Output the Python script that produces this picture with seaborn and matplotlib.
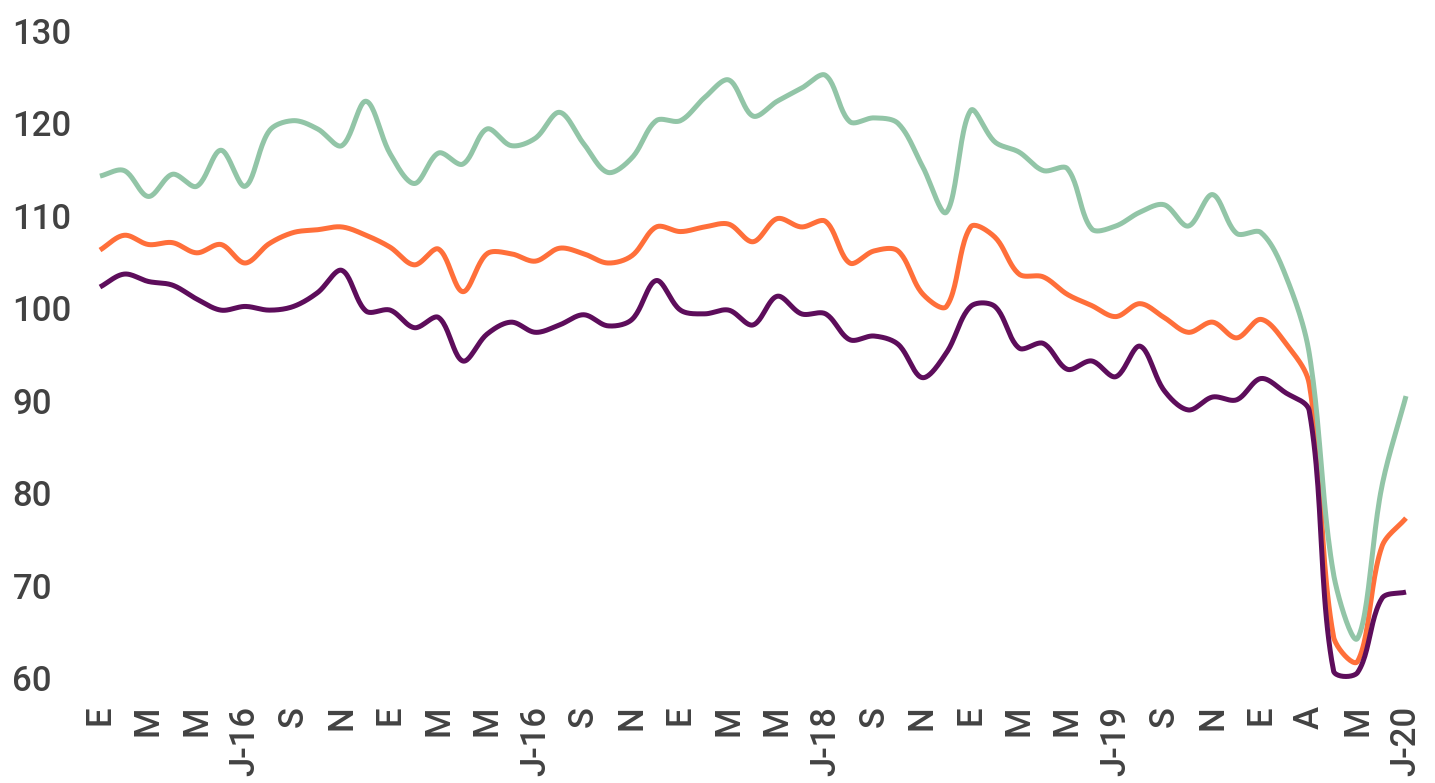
import numpy as np
import pandas as pd
import seaborn as sns
import matplotlib.pyplot as plt

# month labels, shown every second month
tick_labels = ["E", "M", "M", "J-16", "S", "N",
               "E", "M", "M", "J-16", "S", "N",
               "E", "M", "M", "J-18", "S", "N",
               "E", "M", "M", "J-19", "S", "N",
               "E", "A", "M", "J-20"]

# monthly index values
serie_verde = [114.3, 114.9, 112.1, 114.5, 113.2, 117.1, 113.2, 119.2, 120.3, 119.4,
               117.6, 122.4, 116.7, 113.5, 116.8, 115.6, 119.4, 117.6, 118.4, 121.2,
               117.8, 114.7, 116.3, 120.3, 120.3, 122.8, 124.7, 120.8, 122.4, 123.8,
               125.2, 120.2, 120.6, 120.0, 115.4, 110.4, 121.4, 118.0, 116.9, 114.9,
               115.1, 108.6, 108.9, 110.4, 111.2, 108.9, 112.3, 108.1, 108.2, 103.7,
               95.1, 71.3, 64.3, 80.7, 90.5]
serie_naranja = [106.3, 107.9, 106.9, 107.1, 106.0, 106.9, 104.9, 107.0, 108.2, 108.5,
                 108.8, 107.9, 106.6, 104.7, 106.4, 101.8, 105.9, 105.9, 105.1, 106.5,
                 105.9, 104.9, 105.7, 108.8, 108.3, 108.8, 109.1, 107.2, 109.7, 108.8,
                 109.4, 104.9, 106.2, 106.2, 101.6, 100.2, 108.8, 107.7, 103.7, 103.4,
                 101.5, 100.3, 99.1, 100.5, 99.0, 97.4, 98.5, 96.8, 98.8, 96.3,
                 91.8, 64.5, 61.8, 74.2, 77.3]
serie_morada = [102.3, 103.7, 102.9, 102.5, 101.0, 99.8, 100.2, 99.8, 100.2, 101.7,
                104.1, 99.7, 99.8, 97.9, 99.0, 94.3, 97.2, 98.5, 97.4, 98.2,
                99.3, 98.1, 98.8, 103.0, 99.8, 99.4, 99.8, 98.2, 101.3, 99.4,
                99.4, 96.6, 97.0, 96.1, 92.5, 95.2, 100.2, 100.2, 95.7, 96.2,
                93.4, 94.3, 92.6, 95.9, 91.1, 89.0, 90.4, 90.1, 92.4, 90.9,
                88.9, 60.8, 60.6, 68.6, 69.3]

colors = {"naranja": "#FF6F3A", "verde": "#92C5A7", "morada": "#5D0D5B"}


def smooth(values, steps=24, sx=24.2, sy=9.26):
    # excel-like smoothed line: bezier segments, handles scaled by segment length
    y = np.asarray(values, dtype=float)
    pts = np.column_stack([np.arange(len(y)) * sx, y * sy])
    n = len(pts)
    t = np.linspace(0, 1, steps, endpoint=False)[:, None]
    out = []
    for i in range(n - 1):
        p0 = pts[max(i - 1, 0)]
        p1, p2 = pts[i], pts[i + 1]
        p3 = pts[min(i + 2, n - 1)]
        l01 = np.linalg.norm(p1 - p0)
        l12 = np.linalg.norm(p2 - p1)
        l23 = np.linalg.norm(p3 - p2)
        c1 = p1 + (p2 - p0) * (l12 / (l01 + l12)) / 3
        c2 = p2 - (p3 - p1) * (l12 / (l12 + l23)) / 3
        seg = ((1 - t) ** 3 * p1 + 3 * (1 - t) ** 2 * t * c1
               + 3 * (1 - t) * t ** 2 * c2 + t ** 3 * p2)
        out.append(seg)
    out.append(pts[-1][None, :])
    out = np.vstack(out)
    return out[:, 0] / sx, out[:, 1] / sy


frames = []
for name, vals in [("naranja", serie_naranja), ("verde", serie_verde), ("morada", serie_morada)]:
    mx, my = smooth(vals)
    frames.append(pd.DataFrame({"mes": mx, "valor": my, "serie": name}))
df = pd.concat(frames, ignore_index=True)

sns.set_theme(style="white")
plt.rcParams["font.family"] = ["Roboto", "DejaVu Sans"]

fig = plt.figure(figsize=(14.35, 7.83), dpi=100)
ax = fig.add_axes([100 / 1435, 1 - 678 / 783, 1306 / 1435, 647 / 783])

sns.lineplot(data=df, x="mes", y="valor", hue="serie", palette=colors,
             hue_order=["naranja", "verde", "morada"], estimator=None, sort=False,
             linewidth=3.6, legend=False, ax=ax)
for line in ax.lines:
    line.set_clip_on(False)
    line.set_solid_capstyle("butt")

ax.set_xlim(0, len(serie_verde) - 1)
ax.set_ylim(60, 130)
ax.set_yticks(range(60, 131, 10))
ax.set_xticks(range(0, len(serie_verde), 2))
ax.set_xticklabels(tick_labels, rotation=90)
ax.set_xlabel("")
ax.set_ylabel("")
sns.despine(ax=ax, left=True, bottom=True)

ax.tick_params(axis="both", length=0, labelsize=25, labelcolor="#424242")
ax.tick_params(axis="x", pad=20)
ax.tick_params(axis="y", pad=63)
for lab in ax.get_yticklabels():
    lab.set_horizontalalignment("left")
    lab.set_fontweight("medium")
for lab in ax.get_xticklabels():
    lab.set_fontweight("medium")

fig.savefig("out.png", dpi=100)
